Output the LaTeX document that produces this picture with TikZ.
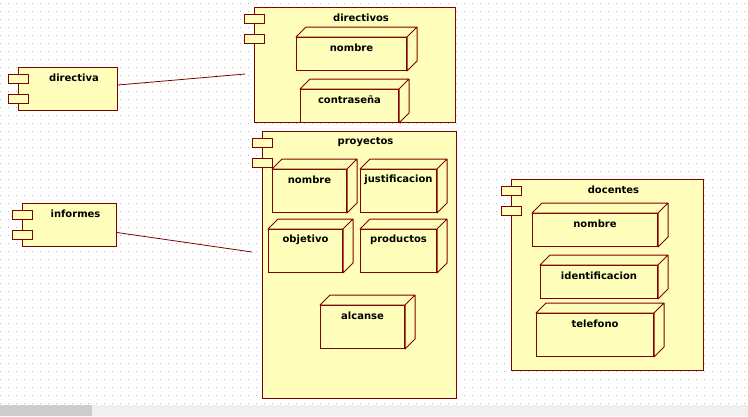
\documentclass[tikz,border=0pt]{standalone}
\usepackage{fontspec}
\newfontfamily\uifont{DejaVu Sans}
\usetikzlibrary{positioning}

\definecolor{borde}{HTML}{800000}
\definecolor{relleno}{HTML}{FFFFBB}
\definecolor{barra}{HTML}{F0F0F0}
\definecolor{barraosc}{HTML}{CCCCCC}

\tikzset{
  comp/.style={draw=borde, fill=relleno, line width=1pt, anchor=north west, inner sep=0pt},
  pestana/.style={draw=borde, fill=relleno, line width=1pt, anchor=north, inner sep=0pt,
    minimum width=20pt, minimum height=9pt},
  caja/.style={draw=borde, fill=relleno, line width=1pt, anchor=north west, inner sep=0pt},
  caracubo/.style={draw=borde, fill=relleno, line width=1pt, line join=round},
  titulo/.style={font=\uifont\bfseries\fontsize{10}{12}\selectfont, inner sep=0pt},
  conector/.style={draw=borde, line width=0.8pt},
  rejilla/.style={black!30, line width=1pt, dash pattern=on 1pt off 7pt}
}

% componente: nombre, x, y, ancho, alto, titulo
\newcommand{\componente}[6]{%
  \node[comp, minimum width=#4pt, minimum height=#5pt] (#1) at (#2,#3) {};
  \node[pestana] (#1-p1) at ([shift={(0,7)}]#1.north west) {};
  \node[pestana] (#1-p2) at ([shift={(0,27)}]#1.north west) {};
  \node[titulo] (#1-t) at ([shift={(6,11)}]#1.north) {#6};
}

% cubo: nombre, x, y, ancho, alto, texto
\newcommand{\cubo}[6]{%
  \node[caja, minimum width=#4pt, minimum height=#5pt] (#1) at (#2,#3) {};
  \path[caracubo] (#1.north west) -- ++(10,-10) -- ([shift={(10,-10)}]#1.north east)
    -- ([shift={(10,-10)}]#1.south east) -- (#1.south east) -- (#1.north east) -- cycle
    (#1.north east) -- ([shift={(10,-10)}]#1.north east);
  \node[titulo] (#1-t) at ([shift={(0,11)}]#1.north) {#6};
}

\begin{document}
\begin{tikzpicture}[x=1pt, y=-1pt]
  \useasboundingbox (0,0) rectangle (748,416);

  % --- rejilla de fondo ---
  \foreach \y in {3,11,...,403}{
    \draw[rejilla] (0,\y) -- (748,\y);
  }

  % --- barra de desplazamiento ---
  \fill[barra] (0,405) rectangle (748,416);
  \fill[barraosc] (0,405) rectangle (92,416);

  % --- componentes ---
  \componente{directiva}{18}{67}{99}{43}{directiva}
  \componente{informes}{22}{203}{94}{43}{informes}
  \componente{directivos}{254}{7}{201}{115}{directivos}
  \componente{proyectos}{262}{131}{194}{267}{proyectos}
  \componente{docentes}{511}{179}{192}{191}{docentes}

  % --- directivos ---
  \cubo{dnombre}{296}{37}{110}{33}{nombre}
  \cubo{contrasena}{300}{89}{98}{33}{contraseña}

  % --- proyectos ---
  \cubo{pnombre}{272}{169}{74}{43}{nombre}
  \cubo{justificacion}{360}{169}{76}{43}{justificacion}
  \cubo{objetivo}{268}{229}{74}{43}{objetivo}
  \cubo{productos}{360}{229}{76}{43}{productos}
  \cubo{alcanse}{320}{305}{84}{43}{alcanse}

  % --- docentes ---
  \cubo{dcnombre}{532}{213}{125}{33}{nombre}
  \cubo{identificacion}{540}{265}{117}{33}{identificacion}
  \cubo{telefono}{536}{313}{117}{43}{telefono}

  % --- conectores ---
  \coordinate (fin1) at (245,74);
  \coordinate (fin2) at (252,252);
  \draw[conector] ([yshift=4pt]directiva.east) -- (fin1);
  \draw[conector] ([yshift=-7.5pt]informes.east) -- (fin2);
\end{tikzpicture}
\end{document}
